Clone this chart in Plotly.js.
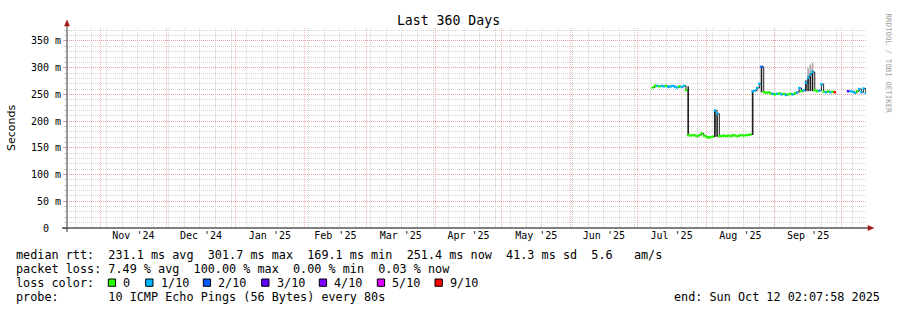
<!DOCTYPE html>
<html>
<head>
<meta charset="utf-8">
<script src="https://cdn.plot.ly/plotly-3.0.1.min.js"></script>
<style>
html,body{margin:0;padding:0;background:#fff;}
#chart{width:897px;height:310px;}
</style>
</head>
<body>
<div id="chart"></div>
<script>
// ---------- DATA ----------
const days = [
 '2025-07-08','2025-07-09','2025-07-10','2025-07-11','2025-07-12','2025-07-13','2025-07-14','2025-07-15',
 '2025-07-16','2025-07-17','2025-07-18','2025-07-19','2025-07-20','2025-07-21','2025-07-22','2025-07-23',
 '2025-07-24','2025-07-25','2025-07-26','2025-07-27','2025-07-28','2025-07-29','2025-07-30','2025-07-31',
 '2025-08-01','2025-08-02','2025-08-03','2025-08-04','2025-08-05','2025-08-06','2025-08-07','2025-08-08',
 '2025-08-09','2025-08-10','2025-08-11','2025-08-12','2025-08-13','2025-08-14','2025-08-15','2025-08-16',
 '2025-08-17','2025-08-18','2025-08-19','2025-08-20','2025-08-21',
 '2025-08-22','2025-08-23','2025-08-24','2025-08-25','2025-08-26','2025-08-27','2025-08-28','2025-08-29',
 '2025-08-30','2025-08-31','2025-09-01','2025-09-02','2025-09-03','2025-09-04','2025-09-05','2025-09-06',
 '2025-09-07','2025-09-08','2025-09-09','2025-09-10','2025-09-11','2025-09-12','2025-09-13','2025-09-14',
 '2025-09-15','2025-09-16','2025-09-17','2025-09-18','2025-09-19','2025-09-20','2025-09-21','2025-09-22',
 '2025-09-23','2025-09-24','2025-09-25','2025-09-26','2025-09-27','2025-09-28',
 '2025-09-30',
 '2025-10-04','2025-10-05','2025-10-06','2025-10-07','2025-10-08','2025-10-09','2025-10-10','2025-10-11','2025-10-12'
];
// median rtt in ms
const medianMs = [
 263,266,266,265,266,265,266,264,
 265,266,264,263,265,264,266,258,
 174,173,174,173,172,174,177,173,
 171,169.1,170,171,220,214,172,172,
 173,172,173,172,174,173,172,173,
 174,173,174,174,175,
 256,257,262,270,301.7,254,253,254,
 252,251,250,251,252,250,251,249,
 250,251,250,252,254,262,256,258,
 272,281,287,292,258,256,257,269,
 255,254,256,254,255,254,
 null,
 256,256,255,253,256,260,254,261,251.4
];
// loss level index into lossColors
const lossLevel = [
 0,0,1,0,1,1,0,1,
 1,1,1,1,0,1,1,0,
 0,0,0,0,0,0,0,0,
 0,0,0,0,1,1,0,0,
 0,0,0,0,0,0,0,0,
 0,0,0,0,0,
 1,1,1,1,2,0,0,0,
 0,1,0,1,0,1,0,1,
 0,0,1,0,1,1,0,1,
 1,1,1,1,0,0,1,1,
 0,1,0,1,0,6,
 null,
 3,1,1,1,0,1,1,1,1
];
// smoke (spread of pings) – dark core
const smokeDays = ['2025-07-24','2025-08-05','2025-08-06','2025-08-22','2025-08-26','2025-09-15','2025-09-16','2025-09-17','2025-09-18'];
const smokeLow  = [172,171,171,174,254,256,256,256,256];
const smokeHigh = [265,221,215,257,303,276,284,290,295];
// smoke – light outer
const lightSmokeDays = ['2025-09-16','2025-09-17','2025-09-18'];
const lightSmokeLow  = [284,290,295];
const lightSmokeHigh = [300,306,309];

const lossColors = ['#26ff00','#00b8ff','#0059ff','#5e00ff','#7e00ff','#dd00ff','#ff0000'];
const lossLabels = ['0','1/10','2/10','3/10','4/10','5/10','9/10'];

const yTickVals = [0,50,100,150,200,250,300,350];
const yTickText = ['0\u00a0\u00a0','50 m','100 m','150 m','200 m','250 m','300 m','350 m'];

const statsLine1 = 'median rtt:  231.1 ms avg  301.7 ms max  169.1 ms min  251.4 ms now  41.3 ms sd  5.6   am/s';
const statsLine2 = 'packet loss: 7.49 % avg  100.00 % max  0.00 % min  0.03 % now';
const statsLine3 = 'loss color:';
const statsLine4 = 'probe:       10 ICMP Echo Pings (56 Bytes) every 80s';
const endText = 'end: Sun Oct 12 02:07:58 2025';

// ---------- LAYOUT HELPERS ----------
const W = 897, H = 310, ML = 67, MR = 31, MT = 28, MB = 82;
const PW = W - ML - MR, PH = H - MT - MB;
const px = p => (p - ML) / PW;
const py = p => (H - MB - p) / PH;
const nb = s => s.replace(/ /g, '\u00a0');
const MONO = 'DejaVu Sans Mono';

// weekly minor grid positions (Mondays)
const weekGrid = [];
for (let t = Date.UTC(2024,9,21); t < Date.UTC(2025,9,13); t += 7*86400000) {
  weekGrid.push(new Date(t).toISOString().slice(0,10));
}

const traces = [
  { type:'bar', x: lightSmokeDays, base: lightSmokeLow,
    y: lightSmokeHigh.map((h,i)=>h-lightSmokeLow[i]),
    width: 0.7*86400000, marker:{color:'#a8a8a8'}, hoverinfo:'skip' },
  { type:'bar', x: smokeDays, base: smokeLow,
    y: smokeHigh.map((h,i)=>h-smokeLow[i]),
    width: 0.7*86400000, marker:{color:'#1e1e1e'}, hoverinfo:'skip' },
  { type:'scatter', mode:'lines', x: days, y: medianMs, connectgaps:false,
    line:{color:'#222', width:1, shape:'hv'}, hoverinfo:'skip' },
  { type:'scatter', mode:'markers', x: days, y: medianMs,
    marker:{symbol:'square', size:2.4,
      color: lossLevel.map(l => l === null ? 'rgba(0,0,0,0)' : lossColors[l]),
      line:{width:0}}, hoverinfo:'skip' }
];

const annotations = [
  { text: nb(statsLine1), x: px(14), y: py(255) },
  { text: nb(statsLine2), x: px(14), y: py(268.5) },
  { text: nb(statsLine3), x: px(14), y: py(282.5) },
  { text: nb(statsLine4), x: px(14), y: py(296.5) },
].map(a => Object.assign(a, {xref:'paper', yref:'paper', xanchor:'left', yanchor:'middle',
    showarrow:false, font:{family:MONO, size:11.8, color:'#000'}}));

annotations.push({ text: nb(endText), x: px(882), y: py(296.5), xref:'paper', yref:'paper',
  xanchor:'right', yanchor:'middle', showarrow:false, font:{family:MONO, size:11.8, color:'#000'} });

annotations.push({ text:'Seconds', x: px(11), y: py(128), xref:'paper', yref:'paper', textangle:-90,
  xanchor:'center', yanchor:'middle', showarrow:false, font:{family:'DejaVu Sans', size:11, color:'#000'} });

annotations.push({ text: nb('RRDTOOL / TOBI OETIKER'), x: px(888.5), y: py(63), xref:'paper', yref:'paper', textangle:90,
  xanchor:'center', yanchor:'middle', showarrow:false, font:{family:MONO, size:7.5, color:'#a0a0a0'} });

const boxX = [108.3,145.7,203.3,261.7,319.3,377.3,435];
const shapes = [];
lossLabels.forEach((lab, i) => {
  shapes.push({ type:'rect', xref:'paper', yref:'paper', x0:px(boxX[i]), x1:px(boxX[i]+7.3),
    y0:py(286.3), y1:py(279), line:{color:'#000', width:1}, fillcolor: lossColors[i] });
  annotations.push({ text: lab, x: px(boxX[i]+13), y: py(282.5), xref:'paper', yref:'paper',
    xanchor:'left', yanchor:'middle', showarrow:false, font:{family:MONO, size:11.8, color:'#000'} });
});

// axes with arrows
shapes.push({ type:'line', xref:'paper', yref:'paper', x0:px(62), x1:px(869), y0:py(228), y1:py(228),
  line:{color:'#000', width:1} });
shapes.push({ type:'line', xref:'paper', yref:'paper', x0:px(67), x1:px(67), y0:py(232), y1:py(25),
  line:{color:'#333', width:1} });
shapes.push({ type:'path', xref:'paper', yref:'paper',
  path:`M ${px(868)},${py(225.5)} L ${px(874)},${py(228)} L ${px(868)},${py(230.5)} Z`,
  fillcolor:'#a01818', line:{color:'#a01818', width:0.5} });
shapes.push({ type:'path', xref:'paper', yref:'paper',
  path:`M ${px(64.5)},${py(26)} L ${px(67)},${py(20)} L ${px(69.5)},${py(26)} Z`,
  fillcolor:'#a01818', line:{color:'#a01818', width:0.5} });

const MAJ = 'rgba(240,120,120,0.55)', MIN = 'rgba(170,170,170,0.5)';
const layout = {
  width: W, height: H,
  margin: {l:ML, r:MR, t:MT, b:MB, pad:0},
  paper_bgcolor:'#fff', plot_bgcolor:'#fff',
  showlegend:false, barmode:'overlay',
  title: { text:'Last 360 Days', xref:'container', yref:'container', x:0.5, y:1-20/H,
    xanchor:'center', yanchor:'middle', font:{family:MONO, size:13.2, color:'#000'} },
  xaxis: {
    type:'date', range:['2024-10-17 02:07:58','2025-10-12 02:07:58'],
    dtick:'M1', tick0:'2024-11-01', ticklabelmode:'period', tickformat:"%b '%y",
    tickfont:{family:MONO, size:10, color:'#000'}, ticks:'',
    showgrid:true, gridcolor:MAJ, griddash:'1px,1px', gridwidth:1,
    minor:{tickmode:'array', tickvals:weekGrid, showgrid:true, gridcolor:MIN, griddash:'1px,1px', gridwidth:1},
    showline:false, zeroline:false, fixedrange:true
  },
  yaxis: {
    range:[0,374.3], tickmode:'array', tickvals:yTickVals, ticktext:yTickText,
    tickfont:{family:MONO, size:10, color:'#000'},
    ticks:'outside', ticklen:3, tickcolor:'rgba(200,120,120,0.6)',
    showgrid:true, gridcolor:MAJ, griddash:'1px,1px', gridwidth:1,
    minor:{dtick:10, tick0:0, showgrid:true, gridcolor:MIN, griddash:'1px,1px', gridwidth:1,
      ticks:'outside', ticklen:2, tickcolor:'rgba(170,170,170,0.6)'},
    showline:false, zeroline:false, fixedrange:true
  },
  annotations, shapes
};

Plotly.newPlot('chart', traces, layout, {displayModeBar:false, staticPlot:true});
</script>
</body>
</html>
